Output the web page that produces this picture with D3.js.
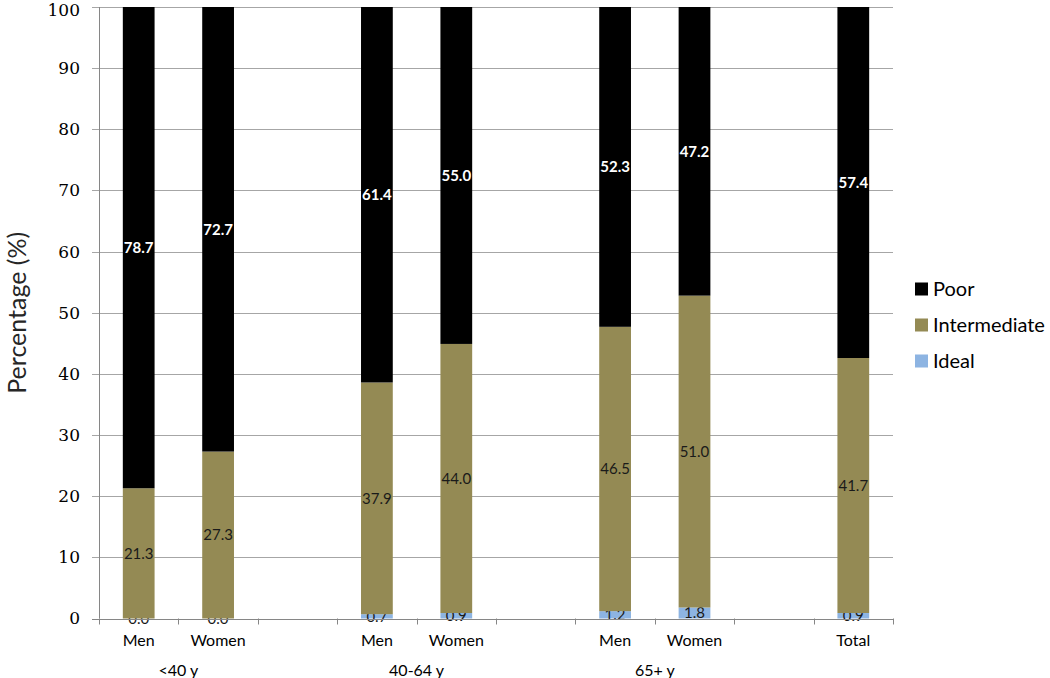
<!DOCTYPE html>
<html>
<head>
<meta charset="utf-8">
<script src="https://cdn.jsdelivr.net/npm/d3@7"></script>
<style>
  body { margin: 0; background: #fff; }
  svg { display: block; }
</style>
</head>
<body>
<figure id="bar" style="margin:0"></figure>
<script>
// slots on the x axis (empty slots keep the gaps between age groups)
const slots = ["m40", "w40", "gap1", "m4064", "w4064", "gap2", "m65", "w65", "gap3", "total"];
const slotLabels = ["Men", "Women", "", "Men", "Women", "", "Men", "Women", "", "Total"];
const barSlots = ["m40", "w40", "m4064", "w4064", "m65", "w65", "total"];
const groupLabels = ["<40 y", "40-64 y", "65+ y"];
const groupSlots = [["m40", "w40"], ["m4064", "w4064"], ["m65", "w65"]];

const poor = [78.7, 72.7, 61.4, 55.0, 52.3, 47.2, 57.4];
const intermediate = [21.3, 27.3, 37.9, 44.0, 46.5, 51.0, 41.7];
const ideal = [0.0, 0.0, 0.7, 0.9, 1.2, 1.8, 0.9];

const yTicks = [0, 10, 20, 30, 40, 50, 60, 70, 80, 90, 100];
const seriesNames = ["Ideal", "Intermediate", "Poor"];
const colors = { Ideal: "#8DB4E2", Intermediate: "#948A54", Poor: "#000000" };
const labelColors = { Ideal: "#1a1a1a", Intermediate: "#1a1a1a", Poor: "#ffffff" };

const width = 1050, height = 678;
const plotLeft = 99, plotRight = 893, plotTop = 7, plotBottom = 618.5;

const svg = d3.select("figure#bar")
  .append("svg")
  .attr("width", width)
  .attr("height", height);

const x = d3.scaleBand()
  .domain(slots)
  .range([plotLeft, plotRight])
  .padding(0);

const y = d3.scaleLinear()
  .domain([0, 100])
  .range([plotBottom, plotTop]);

const bw = x.bandwidth() * 0.4;

// gridlines
svg.append("g")
  .selectAll("line")
  .data(yTicks)
  .enter()
  .append("line")
  .attr("x1", plotLeft - 7)
  .attr("x2", plotRight)
  .attr("y1", d => Math.round(y(d)) + 0.5)
  .attr("y2", d => Math.round(y(d)) + 0.5)
  .attr("stroke", d => d === 0 ? "#868686" : "#a6a6a6")
  .attr("stroke-width", 1);

// y tick labels
svg.append("g")
  .selectAll("text")
  .data(yTicks)
  .enter()
  .append("text")
  .attr("x", plotLeft - 19)
  .attr("y", d => Math.max(y(d), 10))
  .attr("dy", "0.35em")
  .attr("text-anchor", "end")
  .style("font-family", "'DejaVu Serif', serif")
  .style("font-size", "17px")
  .style("fill", "#000")
  .text(d => d);

// stacked bars (top segment runs to 100, values are rounded)
const rows = barSlots.map((s, i) => ({ slot: s, Ideal: ideal[i], Intermediate: intermediate[i], Poor: poor[i] }));
const stacked = d3.stack().keys(seriesNames)(rows);
const topOf = (layer, d) => layer.key === "Poor" ? 100 : Math.min(d[1], 100);

const layers = svg.append("g")
  .selectAll("g")
  .data(stacked)
  .enter()
  .append("g")
  .attr("fill", d => colors[d.key]);

layers.each(function (layer) {
  d3.select(this).selectAll("rect")
    .data(layer)
    .enter()
    .append("rect")
    .attr("x", d => x(d.data.slot) + (x.bandwidth() - bw) / 2)
    .attr("y", d => y(topOf(layer, d)))
    .attr("width", bw)
    .attr("height", d => y(d[0]) - y(topOf(layer, d)));
});

// y axis line
svg.append("line")
  .attr("x1", plotLeft + 0.5).attr("x2", plotLeft + 0.5)
  .attr("y1", plotTop).attr("y2", plotBottom)
  .attr("stroke", "#868686");

// x axis line + ticks at slot edges
svg.append("line")
  .attr("x1", plotLeft).attr("x2", plotRight)
  .attr("y1", Math.round(plotBottom) + 0.5).attr("y2", Math.round(plotBottom) + 0.5)
  .attr("stroke", "#868686");

svg.append("g")
  .selectAll("line")
  .data(slots.concat(["end"]))
  .enter()
  .append("line")
  .attr("x1", d => Math.round(d === "end" ? plotRight : x(d)) + 0.5)
  .attr("x2", d => Math.round(d === "end" ? plotRight : x(d)) + 0.5)
  .attr("y1", plotBottom)
  .attr("y2", plotBottom + 6)
  .attr("stroke", "#868686");

// value labels
layers.each(function (layer) {
  d3.select(this).selectAll("text")
    .data(layer)
    .enter()
    .append("text")
    .attr("x", d => x(d.data.slot) + x.bandwidth() / 2)
    .attr("y", d => y((d[0] + topOf(layer, d)) / 2))
    .attr("dy", "0.35em")
    .attr("text-anchor", "middle")
    .style("font-family", "Lato, 'Open Sans', sans-serif")
    .style("font-size", "15px")
    .style("font-weight", layer.key === "Poor" ? "bold" : "normal")
    .style("fill", labelColors[layer.key])
    .text(d => (d[1] - d[0]).toFixed(1));
});

// x category labels
svg.append("g")
  .selectAll("text")
  .data(slots)
  .enter()
  .append("text")
  .attr("x", d => x(d) + x.bandwidth() / 2)
  .attr("y", 640)
  .attr("dy", "0.35em")
  .attr("text-anchor", "middle")
  .style("font-family", "Lato, 'Open Sans', sans-serif")
  .style("font-size", "16px")
  .style("fill", "#000")
  .text((d, i) => slotLabels[i]);

// age group labels
svg.append("g")
  .selectAll("text")
  .data(groupLabels)
  .enter()
  .append("text")
  .attr("x", (d, i) => (x(groupSlots[i][0]) + x(groupSlots[i][1]) + x.bandwidth()) / 2)
  .attr("y", 670)
  .attr("dy", "0.35em")
  .attr("text-anchor", "middle")
  .style("font-family", "Lato, 'Open Sans', sans-serif")
  .style("font-size", "16px")
  .style("fill", "#000")
  .text(d => d);

// y axis title
svg.append("text")
  .attr("transform", "translate(17," + ((plotTop + plotBottom) / 2) + ") rotate(-90)")
  .attr("dy", "0.35em")
  .attr("text-anchor", "middle")
  .style("font-family", "Lato, 'Open Sans', sans-serif")
  .style("font-size", "25px")
  .style("fill", "#262626")
  .text("Percentage (%)");

// legend
const legend = svg.append("g")
  .selectAll("g")
  .data(seriesNames.slice().reverse())
  .enter()
  .append("g")
  .attr("transform", (d, i) => "translate(915," + (289 + i * 36) + ")");

legend.append("rect")
  .attr("x", 0)
  .attr("y", -6.5)
  .attr("width", 13)
  .attr("height", 13)
  .attr("fill", d => colors[d]);

legend.append("text")
  .attr("x", 18)
  .attr("dy", "0.35em")
  .style("font-family", "Lato, 'Open Sans', sans-serif")
  .style("font-size", "20px")
  .style("fill", "#000")
  .text(d => d);
</script>
</body>
</html>
